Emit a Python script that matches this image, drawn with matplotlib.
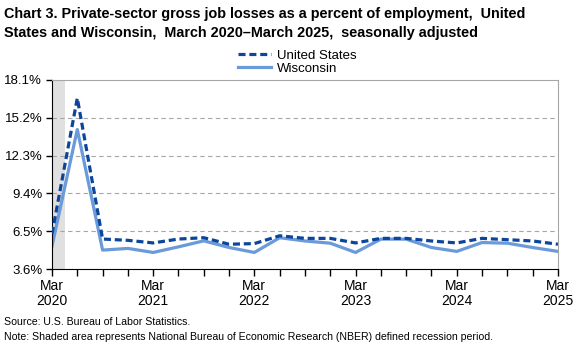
import matplotlib
matplotlib.use("Agg")
import matplotlib.pyplot as plt

plt.rcParams['font.family'] = ['Liberation Sans', 'DejaVu Sans']

# quarterly, Mar 2020 .. Mar 2025
quarters = ["Mar 2020", "Jun 2020", "Sep 2020", "Dec 2020",
            "Mar 2021", "Jun 2021", "Sep 2021", "Dec 2021",
            "Mar 2022", "Jun 2022", "Sep 2022", "Dec 2022",
            "Mar 2023", "Jun 2023", "Sep 2023", "Dec 2023",
            "Mar 2024", "Jun 2024", "Sep 2024", "Dec 2024",
            "Mar 2025"]
us = [6.3, 16.7, 5.9, 5.8, 5.6, 5.9, 6.0, 5.5, 5.55, 6.15, 5.95,
      5.95, 5.6, 5.95, 5.95, 5.75, 5.6, 5.95, 5.85, 5.75, 5.5]
wi = [5.35, 14.3, 5.05, 5.18, 4.87, 5.3, 5.76, 5.25, 4.87, 6.0, 5.75,
      5.58, 4.87, 5.89, 5.89, 5.25, 4.95, 5.63, 5.58, 5.25, 4.95]
yticks = [3.6, 6.5, 9.4, 12.3, 15.2, 18.1]
tick_years = ["2020", "2021", "2022", "2023", "2024", "2025"]

fig = plt.figure(figsize=(5.83, 3.46), dpi=100)
ax = fig.add_axes([0.0892, 0.2225, 0.8678, 0.5465])

x = list(range(len(quarters)))

# recession shading (Feb-Apr 2020)
ax.axvspan(0, 0.5, color='#e0e0e0', lw=0, zorder=0)

ax.plot(x, us, color='#0B459C', lw=2.3, ls=(0, (2.2, 1.2)), label='United States', zorder=3)
ax.plot(x, wi, color='#6A9AD9', lw=2.3, label='Wisconsin', zorder=2)

ax.set_xlim(0, 20)
ax.set_ylim(3.6, 18.1)
ax.set_yticks(yticks)
ax.set_yticklabels([f"{v:.1f}%" for v in yticks], fontsize=9.5)
ax.set_xticks(x)
ax.set_xticklabels(["Mar\n" + tick_years[i // 4] if i % 4 == 0 else "" for i in x],
                   fontsize=10, linespacing=1.15)
ax.tick_params(axis='x', length=5, width=1, color='black', pad=2)
ax.tick_params(axis='y', length=4, width=1, color='black', pad=3)

for v in yticks[1:-1]:
    ax.axhline(v, color='#a6a6a6', lw=0.8, ls=(0, (4, 3)), zorder=1)

ax.spines['left'].set_color('black')
ax.spines['bottom'].set_color('black')
ax.spines['top'].set_color('#a6a6a6')
ax.spines['right'].set_color('#a6a6a6')

fig.text(0.007, 0.98, "Chart 3. Private-sector gross job losses as a percent of employment,  United\n"
         "States and Wisconsin,  March 2020\u2013March 2025,  seasonally adjusted",
         fontsize=10.4, fontweight='bold', va='top', ha='left', linespacing=1.5)

ax.legend(loc='lower center', bbox_to_anchor=(0.485, 0.985), frameon=False, fontsize=9.5,
          handlelength=2.5, handletextpad=0.4, labelspacing=0.05, borderpad=0.1)

fig.text(0.007, 0.055, "Source: U.S. Bureau of Labor Statistics.", fontsize=7.6, va='bottom')
fig.text(0.007, 0.012, "Note: Shaded area represents National Bureau of Economic Research (NBER) "
         "defined recession period.", fontsize=7.6, va='bottom')

fig.savefig("out.png", dpi=100)
